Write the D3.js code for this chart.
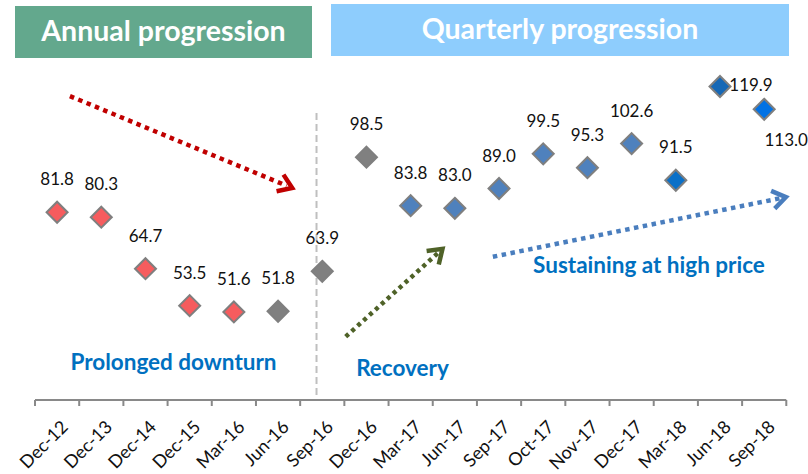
<!DOCTYPE html>
<html>
<head>
<meta charset="utf-8">
<script src="https://cdn.jsdelivr.net/npm/d3@7"></script>
<style>
  html, body { margin: 0; padding: 0; background: #fff; }
  svg { display: block; }
</style>
</head>
<body>
<svg id="chart" width="808" height="474"></svg>
<script>
// ---- data ----
const categories = ["Dec-12","Dec-13","Dec-14","Dec-15","Mar-16","Jun-16","Sep-16","Dec-16","Mar-17","Jun-17","Sep-17","Oct-17","Nov-17","Dec-17","Mar-18","Jun-18","Sep-18"];
const values = [81.8, 80.3, 64.7, 53.5, 51.6, 51.8, 63.9, 98.5, 83.8, 83.0, 89.0, 99.5, 95.3, 102.6, 91.5, 119.9, 113.0];
const phases = ["down","down","down","down","down","flat","flat","flat","up","up","up","up","up","up","high","peak","last"];
const headers = ["Annual progression", "Quarterly progression"];
const notes = ["Prolonged downturn", "Recovery", "Sustaining at high price"];

// ---- styles ----
const phaseFill = { down: "#F65C5E", flat: "#808080", up: "#4F81BD", high: "#0A70C8", peak: "#1668B6", last: "#0272E4" };
const svg = d3.select("#chart");
const font = "Lato, 'Open Sans', sans-serif";

const x = d3.scaleBand().domain(categories).range([35, 786.3]).padding(0);
const y = d3.scaleLinear().domain([25, 130]).range([399.7, 53.2]);
const step = x.step();
const cx = c => x(c) + x.bandwidth() / 2;
const fx = i => x(categories[0]) + step / 2 + i * step; // fractional category index -> px

// ---- header boxes ----
const hdr = [
  { text: headers[0], x0: 15, x1: 312, y0: 6, y1: 58, fill: "#63A88D" },
  { text: headers[1], x0: 331, x1: 789, y0: 4, y1: 56, fill: "#8ECDFD" }
];
hdr.forEach(h => {
  svg.append("rect").attr("x", h.x0).attr("y", h.y0).attr("width", h.x1 - h.x0).attr("height", h.y1 - h.y0).attr("fill", h.fill);
  svg.append("text").attr("x", (h.x0 + h.x1) / 2).attr("y", (h.y0 + h.y1) / 2 + 9)
    .attr("text-anchor", "middle").attr("fill", "#fff").attr("font-family", font)
    .attr("font-weight", "bold").attr("font-size", 28.5).text(h.text);
});

// ---- divider ----
svg.append("line").attr("x1", fx(5.87)).attr("x2", fx(5.87)).attr("y1", y(111.9)).attr("y2", 398)
  .attr("stroke", "#BFBFBF").attr("stroke-width", 2).attr("stroke-dasharray", "7,4");

// ---- axis ----
const axisY = 400;
const g = svg.append("g").attr("transform", `translate(0,${axisY})`);
g.append("line").attr("x1", x.range()[0]).attr("x2", x.range()[1]).attr("y1", 0).attr("y2", 0)
  .attr("stroke", "#898989").attr("stroke-width", 2);
const bounds = categories.map(c => x(c)).concat([x.range()[1]]);
g.selectAll("line.tk").data(bounds).join("line").attr("class", "tk")
  .attr("x1", d => d).attr("x2", d => d).attr("y1", 0).attr("y2", 6)
  .attr("stroke", "#898989").attr("stroke-width", 2);
const axis = d3.axisBottom(x).tickSize(0).tickPadding(0);
const ag = svg.append("g").attr("transform", `translate(0,${axisY})`).call(axis);
ag.select(".domain").remove();
ag.selectAll("text")
  .attr("font-family", font).attr("font-size", 18).attr("fill", "#111")
  .attr("text-anchor", "end").attr("dy", 0)
  .attr("transform", "translate(12,28) rotate(-45)");

// ---- arrows ----
function arrow(i0, v0, i1, v1, color, dash) {
  const x0 = fx(i0), y0 = y(v0), x1 = fx(i1), y1 = y(v1);
  const ang = Math.atan2(y1 - y0, x1 - x0);
  const len = 16, spread = 0.6;
  svg.append("line").attr("x1", x0).attr("y1", y0)
    .attr("x2", x1 - 6 * Math.cos(ang)).attr("y2", y1 - 6 * Math.sin(ang))
    .attr("stroke", color).attr("stroke-width", 4.5).attr("stroke-dasharray", dash);
  const a1 = ang + Math.PI - spread, a2 = ang + Math.PI + spread;
  svg.append("path")
    .attr("d", `M${x1 + len * Math.cos(a1)},${y1 + len * Math.sin(a1)}L${x1},${y1}L${x1 + len * Math.cos(a2)},${y1 + len * Math.sin(a2)}`)
    .attr("fill", "none").attr("stroke", color).attr("stroke-width", 4.5).attr("stroke-linejoin", "miter");
}
arrow(0.29, 117.0, 5.32, 89.15, "#C00000", "4.5,4.5");
arrow(6.53, 44.1, 8.72, 70.7, "#4F6228", "4,4");
arrow(9.86, 68.3, 16.49, 86.4, "#4A7EBE", "4.5,4.5");

// ---- points ----
const r = 10.5;
svg.selectAll("path.pt").data(values).join("path").attr("class", "pt")
  .attr("d", `M0,${-r}L${r},0L0,${r}L${-r},0Z`)
  .attr("transform", (d, i) => `translate(${cx(categories[i])},${y(d)})`)
  .attr("fill", (d, i) => phaseFill[phases[i]])
  .attr("stroke", "#7F7F7F").attr("stroke-width", 2);

// ---- data labels ----
const labelOffset = { peak: [31, 4, "middle"], last: [22, 37, "middle"] };
svg.selectAll("text.lbl").data(values).join("text").attr("class", "lbl")
  .attr("x", (d, i) => cx(categories[i]) + (labelOffset[phases[i]] ? labelOffset[phases[i]][0] : 0))
  .attr("y", (d, i) => y(d) + (labelOffset[phases[i]] ? labelOffset[phases[i]][1] : -27))
  .attr("text-anchor", "middle").attr("font-family", font).attr("font-size", 17).attr("fill", "#111")
  .text(d => d.toFixed(1));

// ---- notes ----
const notePos = [[173.5, 370], [402.5, 376], [649, 273]];
notes.forEach((t, i) => {
  svg.append("text").attr("x", notePos[i][0]).attr("y", notePos[i][1])
    .attr("text-anchor", "middle").attr("font-family", font).attr("font-weight", "bold")
    .attr("font-size", 22.5).attr("fill", "#0070C0").text(t);
});
</script>
</body>
</html>
